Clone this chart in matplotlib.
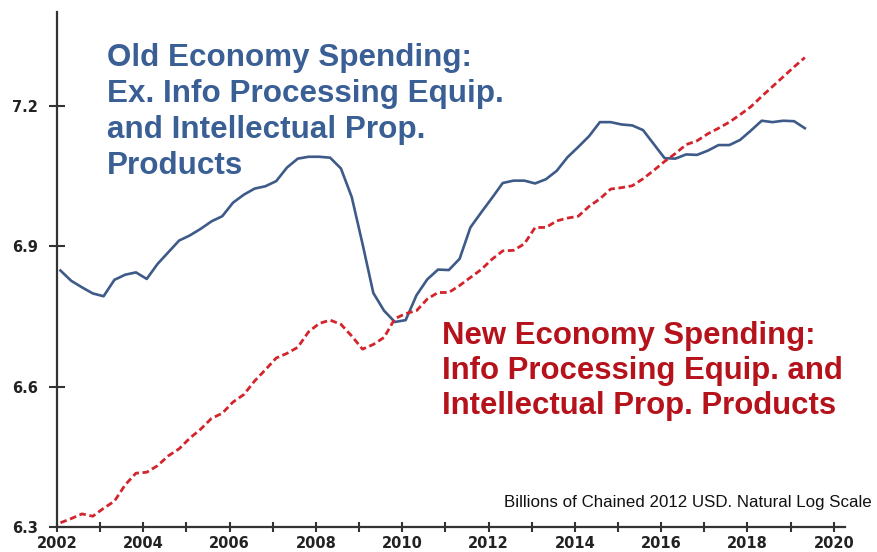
import matplotlib
matplotlib.use("Agg")
import matplotlib.pyplot as plt
import numpy as np

# quarterly readings, 2002Q1 .. 2019Q2
start_year = 2002.08
old_economy = [6.848, 6.826, 6.812, 6.799, 6.793, 6.828, 6.839, 6.844,
               6.830, 6.862, 6.887, 6.912, 6.923, 6.937, 6.953, 6.964,
               6.993, 7.010, 7.023, 7.028, 7.039, 7.068, 7.087, 7.091,
               7.091, 7.089, 7.066, 7.005, 6.905, 6.800, 6.762, 6.738,
               6.742, 6.795, 6.829, 6.850, 6.849, 6.873, 6.940, 6.972,
               7.003, 7.035, 7.040, 7.040, 7.034, 7.043, 7.061, 7.090,
               7.112, 7.135, 7.165, 7.165, 7.160, 7.158, 7.148, 7.118,
               7.088, 7.087, 7.096, 7.095, 7.104, 7.116, 7.116, 7.127,
               7.147, 7.168, 7.165, 7.168, 7.167, 7.152]
new_economy = [6.309, 6.318, 6.328, 6.323, 6.340, 6.355, 6.390, 6.415,
               6.417, 6.431, 6.452, 6.467, 6.490, 6.509, 6.532, 6.543,
               6.567, 6.583, 6.612, 6.636, 6.661, 6.671, 6.684, 6.717,
               6.735, 6.742, 6.733, 6.708, 6.680, 6.690, 6.705, 6.745,
               6.756, 6.762, 6.787, 6.801, 6.801, 6.816, 6.833, 6.850,
               6.872, 6.890, 6.891, 6.905, 6.940, 6.940, 6.954, 6.960,
               6.964, 6.985, 7.001, 7.022, 7.025, 7.029, 7.044, 7.062,
               7.081, 7.098, 7.117, 7.125, 7.140, 7.152, 7.165, 7.181,
               7.198, 7.220, 7.241, 7.262, 7.283, 7.303]
t = start_year + 0.25 * np.arange(len(old_economy))

y_ticks = [6.3, 6.6, 6.9, 7.2]
x_major = [2002, 2004, 2006, 2008, 2010, 2012, 2014, 2016, 2018, 2020]
x_minor = [2003, 2005, 2007, 2009, 2011, 2013, 2015, 2017, 2019]

blue = "#3d5a88"
red = "#d3242c"
axis_col = "#333333"

fig = plt.figure(figsize=(8.78, 5.52), dpi=100)
ax = fig.add_axes([0.0649, 0.0453, 0.897, 0.9327])

ax.plot(t, old_economy, color=blue, lw=1.9)
ax.plot(t, new_economy, color=red, lw=2.0, dashes=(2.4, 1.3))

ax.set_xlim(2002, 2020.25)
ax.set_ylim(6.3, 7.4)

for s in ["top", "right"]:
    ax.spines[s].set_visible(False)
for s in ["left", "bottom"]:
    ax.spines[s].set_color(axis_col)
    ax.spines[s].set_linewidth(1.6)

ax.set_yticks(y_ticks)
ax.set_yticklabels([f"{v:.1f}" for v in y_ticks])
ax.set_xticks(x_major)
ax.set_xticks(x_minor, minor=True)
ax.tick_params(axis="y", direction="inout", length=11.5, width=1.5, color=axis_col, pad=8)
ax.tick_params(axis="x", which="both", direction="inout", length=7, width=1.5, color=axis_col, pad=3)
for lab in ax.get_xticklabels() + ax.get_yticklabels():
    lab.set_fontweight("bold")
    lab.set_fontsize(10.5)
    lab.set_color("#222222")

ax.text(0.0635, 0.94, "Old Economy Spending:\nEx. Info Processing Equip.\nand Intellectual Prop.\nProducts",
        transform=ax.transAxes, color="#3a5f95", fontsize=22.6, fontweight="bold",
        family="Liberation Sans", va="top", ha="left", linespacing=1.26)
ax.text(0.489, 0.40, "New Economy Spending:\nInfo Processing Equip. and\nIntellectual Prop. Products",
        transform=ax.transAxes, color="#b5121b", fontsize=22.4, fontweight="bold",
        family="Liberation Sans", va="top", ha="left", linespacing=1.22)
ax.text(1.035, 0.0485, "Billions of Chained 2012 USD. Natural Log Scale",
        transform=ax.transAxes, color="#111111", fontsize=12.2, family="Liberation Sans",
        va="center", ha="right")

fig.savefig("out.png", dpi=100)
